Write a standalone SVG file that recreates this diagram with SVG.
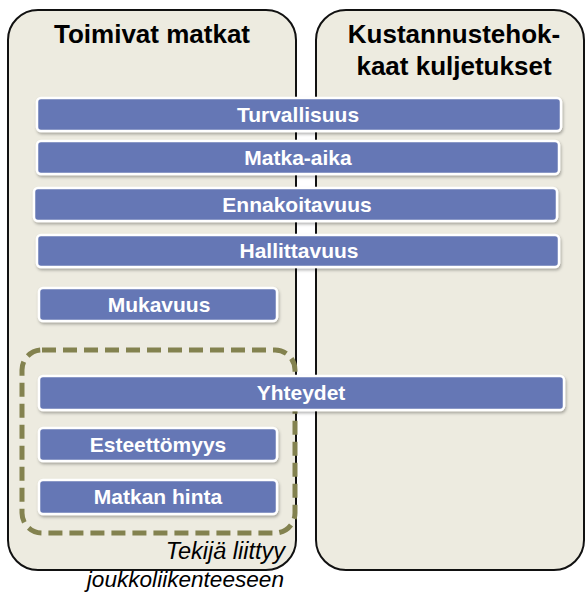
<svg xmlns="http://www.w3.org/2000/svg" width="587" height="593" viewBox="0 0 587 593">
  <defs>
    <filter id="sh" x="-5%" y="-20%" width="110%" height="160%">
      <feDropShadow dx="1" dy="2" stdDeviation="1.5" flood-color="#000" flood-opacity="0.3"/>
    </filter>
    <style>
      .panel { fill: #edebe0; stroke: #111; stroke-width: 2; }
      .title { font-family: "Liberation Sans", Arial, sans-serif; font-weight: bold; font-size: 26px; fill: #000; text-anchor: middle; }
      .bar { fill: #6577b5; stroke: #fff; stroke-width: 2.5; filter: url(#sh); }
      .lbl { font-family: "Liberation Sans", Arial, sans-serif; font-weight: bold; font-size: 21px; fill: #fff; text-anchor: middle; }
      .dash { fill: none; stroke: #83824f; stroke-width: 5; stroke-dasharray: 14 7; }
      .note { font-family: "Liberation Sans", Arial, sans-serif; font-style: italic; font-size: 23.5px; fill: #000; text-anchor: end; }
    </style>
  </defs>
  <rect width="587" height="593" fill="#fff"/>

  <g id="panel-left">
    <rect class="panel" x="8" y="10" width="288" height="560" rx="30"/>
    <text class="title" x="152" y="43">Toimivat matkat</text>
  </g>
  <g id="panel-right">
    <rect class="panel" x="316" y="10" width="268" height="560" rx="30"/>
    <text class="title" x="454" y="43">Kustannustehok-</text>
    <text class="title" x="454" y="75">kaat kuljetukset</text>
  </g>

  <g id="turvallisuus">
    <rect class="bar" x="37" y="98" width="524" height="33" rx="4"/>
    <text class="lbl" x="298" y="122">Turvallisuus</text>
  </g>
  <g id="matka-aika">
    <rect class="bar" x="37" y="141" width="522" height="33" rx="4"/>
    <text class="lbl" x="298" y="165">Matka-aika</text>
  </g>
  <g id="ennakoitavuus">
    <rect class="bar" x="34" y="188" width="523" height="33" rx="4"/>
    <text class="lbl" x="297" y="212">Ennakoitavuus</text>
  </g>
  <g id="hallittavuus">
    <rect class="bar" x="37" y="235" width="522" height="32" rx="4"/>
    <text class="lbl" x="299" y="258">Hallittavuus</text>
  </g>
  <g id="mukavuus">
    <rect class="bar" x="39" y="288" width="238" height="33" rx="4"/>
    <text class="lbl" x="159" y="312">Mukavuus</text>
  </g>

  <g id="joukkoliikenne">
    <rect class="dash" x="22" y="350" width="273" height="183" rx="20"/>
    <text class="note" x="285" y="559">Tekijä liittyy</text>
    <text class="note" x="284" y="587" style="font-size:22.6px">joukkoliikenteeseen</text>
  </g>

  <g id="yhteydet">
    <rect class="bar" x="39" y="376" width="525" height="34" rx="4"/>
    <text class="lbl" x="301" y="400">Yhteydet</text>
  </g>
  <g id="esteettomyys">
    <rect class="bar" x="39" y="428" width="238" height="33" rx="4"/>
    <text class="lbl" x="158" y="452">Esteettömyys</text>
  </g>
  <g id="matkan-hinta">
    <rect class="bar" x="39" y="480" width="238" height="34" rx="4"/>
    <text class="lbl" x="158" y="504">Matkan hinta</text>
  </g>
</svg>
